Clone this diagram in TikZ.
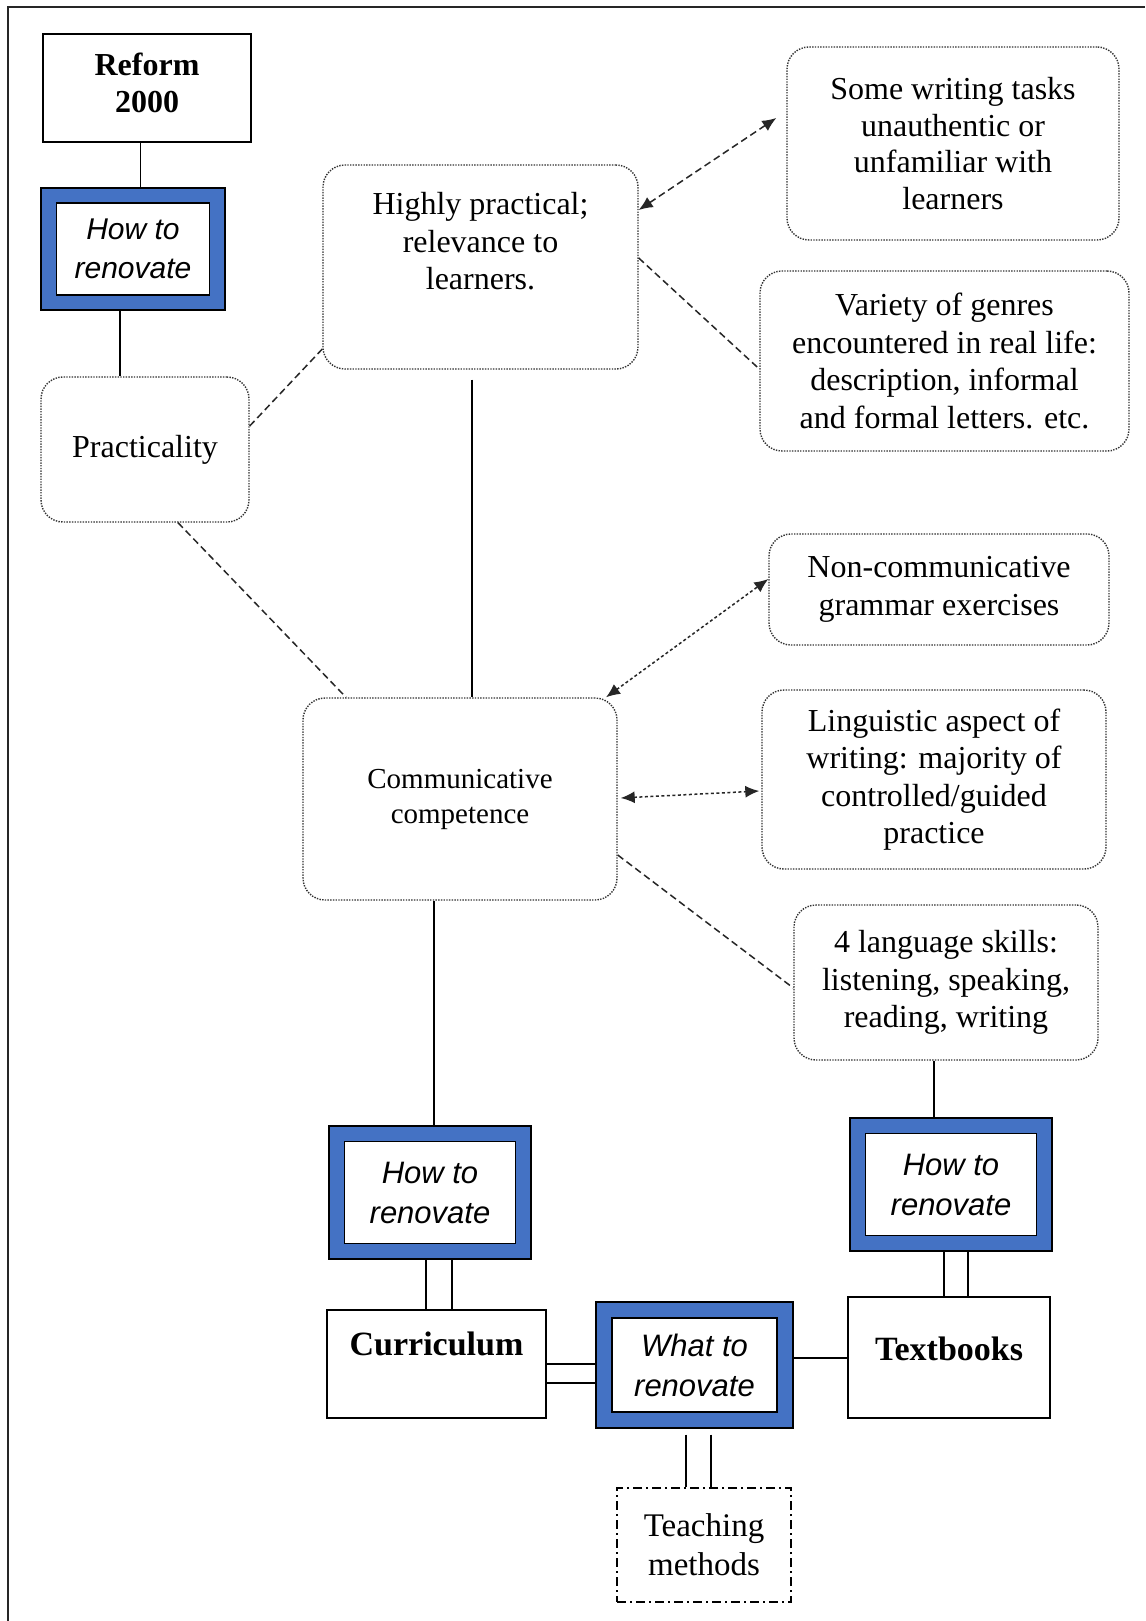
\documentclass[tikz,border=0pt]{standalone}
\usepackage{fontspec}
\setmainfont{Liberation Serif}
\newfontfamily\itsans{Liberation Sans}
\usetikzlibrary{arrows.meta}
\definecolor{bluebox}{HTML}{4472C4}
\begin{document}
\begin{tikzpicture}[x=1pt,y=-1pt,
  rbox/.style={draw=black!80, dash pattern=on 1.4pt off 1.3pt, rounded corners=22pt, align=center,
    font=\fontsize{32}{37.5}\selectfont, line width=1.4pt, inner sep=0pt},
  sbox/.style={draw=black, line width=1.3pt, align=center, inner sep=0pt},
  blueout/.style={draw=black, fill=bluebox, line width=1.3pt, inner sep=0pt},
  bluein/.style={draw=black, fill=white, line width=1.1pt, align=center, inner sep=0pt,
    font=\itsans\itshape\fontsize{30}{39}\selectfont},
  conn/.style={line width=1.3pt, black},
  dconn/.style={line width=1.5pt, black!85, dash pattern=on 7pt off 4pt},
  dotconn/.style={line width=1.5pt, black!85, dash pattern=on 3pt off 2.5pt},
  tip/.style={{Latex[length=14pt,width=12pt]}-{Latex[length=14pt,width=12pt]}}
]
\useasboundingbox (0,0) rectangle (1145,1621);
\fill[white] (0,0) rectangle (1145,1621);
\coordinate (fbl) at (8,1621);
\coordinate (ftl) at (8,7);
\coordinate (ftr) at (1145,7);
\draw[line width=1.6pt, black!85] (fbl) -- (ftl) -- (ftr);

% square boxes
\node[sbox, minimum width=208pt, minimum height=108pt,
  font=\bfseries\fontsize{32}{37}\selectfont] (reform) at (147,88) {Reform\\2000\\[-27pt]\mbox{}};
\node[sbox, minimum width=219pt, minimum height=108pt, text height=22pt, text depth=40pt,
  font=\bfseries\fontsize{34}{40}\selectfont] (curr) at (436.5,1364) {Curriculum};
\node[sbox, minimum width=202pt, minimum height=121pt, text height=22pt, text depth=16pt,
  font=\bfseries\fontsize{34}{40}\selectfont] (textb) at (949,1357.5) {Textbooks};
\node[sbox, dash pattern=on 9pt off 4pt on 2pt off 4pt, minimum width=174pt, minimum height=114pt,
  font=\fontsize{33}{39}\selectfont] (teach) at (704,1545) {Teaching\\methods};

% blue boxes
\node[blueout, minimum width=184pt, minimum height=122pt] (b1) at (133,249) {};
\node[bluein, minimum width=153pt, minimum height=92pt] (b1t) at (b1) {How to\\renovate};
\node[blueout, minimum width=202pt, minimum height=133pt] (b2) at (430,1192.5) {};
\node[bluein, minimum width=171pt, minimum height=102pt, font=\itsans\itshape\fontsize{31}{40}\selectfont] (b2t) at (b2) {How to\\renovate};
\node[blueout, minimum width=202pt, minimum height=133pt] (b3) at (951,1184.5) {};
\node[bluein, minimum width=171pt, minimum height=102pt, font=\itsans\itshape\fontsize{31}{40}\selectfont] (b3t) at (b3) {How to\\renovate};
\node[blueout, minimum width=197pt, minimum height=126pt] (what) at (694.5,1365) {};
\node[bluein, minimum width=165pt, minimum height=94pt, font=\itsans\itshape\fontsize{31}{40}\selectfont] (whatt) at (what) {What to\\renovate};

% rounded dotted boxes
\node[rbox, minimum width=208pt, minimum height=145pt] (prac) at (145,449.5) {Practicality};
\node[rbox, minimum width=315pt, minimum height=204pt] (high) at (480.5,267)
  {Highly practical;\\relevance to\\learners.\\[14pt]\mbox{}};
\node[rbox, minimum width=332pt, minimum height=193pt, font=\fontsize{32}{36.5}\selectfont] (sw) at (953,143.5)
  {Some writing tasks\\unauthentic or\\unfamiliar with\\learners};
\node[rbox, minimum width=369pt, minimum height=180pt] (var) at (944.5,361)
  {Variety of genres\\encountered in real life:\\description, informal\\and formal letters. etc.};
\node[rbox, minimum width=314pt, minimum height=202pt, font=\fontsize{29}{35}\selectfont] (comm) at (460,799)
  {Communicative\\competence};
\node[rbox, minimum width=340pt, minimum height=111pt] (nc) at (939,589.5)
  {Non-communicative\\grammar exercises};
\node[rbox, minimum width=344pt, minimum height=179pt] (ling) at (934,779.5)
  {Linguistic aspect of\\writing: majority of\\controlled/guided\\practice};
\node[rbox, minimum width=304pt, minimum height=155pt] (lang) at (946,982.5)
  {4 language skills:\\listening, speaking,\\reading, writing};

% connectors
\draw[conn] (reform.south -| 140.5,0) -- (b1.north -| 140.5,0);
\draw[conn] (b1.south -| 120,0) -- (prac.north -| 120,0);
\draw[dconn] (prac.east |- 0,426) -- (high.west |- 0,349);
\draw[dconn, tip] (high.east |- 0,210) -- ([xshift=-10pt]sw.west |- 0,118);
\draw[dconn] (high.east |- 0,258) -- (var.west |- 0,369);
\draw[conn, shorten <=10pt] (high.south -| 472,0) -- (comm.north -| 472,0);
\draw[dconn] (prac.south -| 178,0) -- (comm.north -| 346,0);
\draw[dotconn, tip] (comm.north -| 606,0) -- (nc.west |- 0,579);
\draw[dotconn, tip] ([xshift=3pt]comm.east |- 0,798) -- ([xshift=-2pt]ling.west |- 0,791);
\draw[dconn] (comm.east |- 0,855) -- (lang.west |- 0,988);
\draw[conn] (comm.south -| 434,0) -- (b2.north -| 434,0);
\draw[conn] (b2.south -| 426,0) -- (curr.north -| 426,0);
\draw[conn] (b2.south -| 452,0) -- (curr.north -| 452,0);
\draw[conn] (curr.east |- 0,1364) -- (what.west |- 0,1364);
\draw[conn] (curr.east |- 0,1383) -- (what.west |- 0,1383);
\draw[conn] (what.east |- 0,1358) -- (textb.west |- 0,1358);
\draw[conn] (lang.south -| 934,0) -- (b3.north -| 934,0);
\draw[conn] (b3.south -| 944,0) -- (textb.north -| 944,0);
\draw[conn] (b3.south -| 968,0) -- (textb.north -| 968,0);
\draw[conn, shorten <=6pt] (what.south -| 686,0) -- (teach.north -| 686,0);
\draw[conn, shorten <=6pt] (what.south -| 711,0) -- (teach.north -| 711,0);
\end{tikzpicture}
\end{document}
